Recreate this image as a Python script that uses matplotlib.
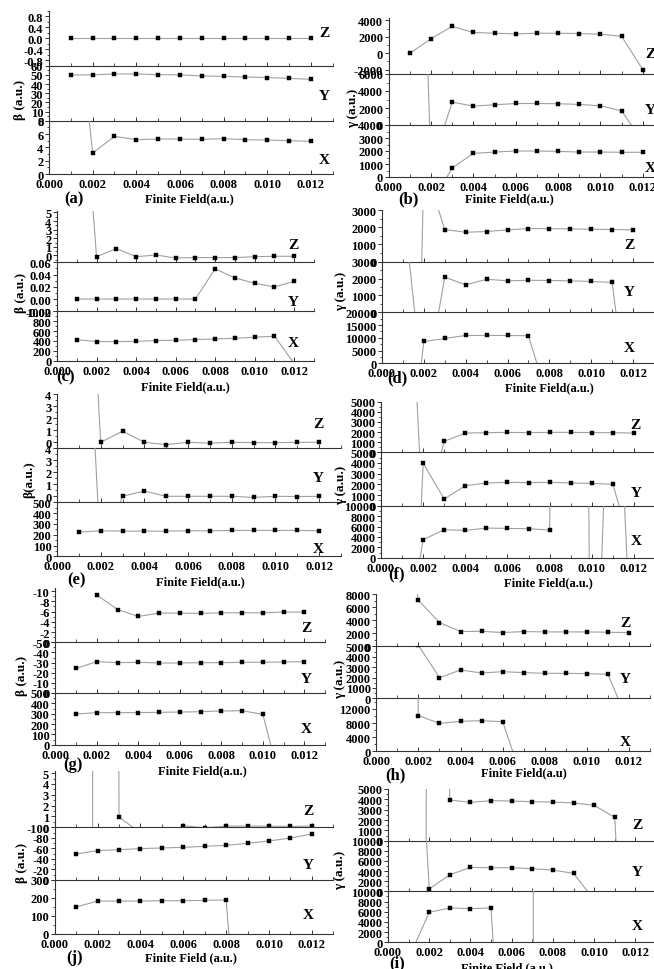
import numpy as np
import matplotlib
matplotlib.use("Agg")
import matplotlib.pyplot as plt
from matplotlib.ticker import MultipleLocator, AutoMinorLocator, FormatStrFormatter

plt.rcParams['font.family'] = ['Liberation Serif', 'DejaVu Serif']
plt.rcParams['font.weight'] = 'bold'
plt.rcParams['axes.unicode_minus'] = False

W, H, DPI = 654, 970, 100
nan = np.nan

field = [0.001, 0.002, 0.003, 0.004, 0.005, 0.006, 0.007, 0.008, 0.009, 0.010, 0.011, 0.012]
components = ['Z', 'Y', 'X']

# ---- panel (a): beta ----
a_Z = [0.0, 0.0, 0.0, 0.0, 0.0, 0.0, 0.0, 0.0, 0.0, 0.0, 0.0, 0.0]
a_Y = [49.9, 50.0, 51.0, 51.0, 50.2, 50.0, 48.8, 48.4, 47.7, 47.0, 46.2, 45.1]
a_X = [34.0, 3.15, 5.65, 5.15, 5.25, 5.25, 5.2, 5.3, 5.15, 5.1, 5.0, 4.9]
# ---- panel (b): gamma ----
b_Z = [0, 1770, 3280, 2530, 2440, 2360, 2440, 2440, 2400, 2320, 2060, -2020]
b_Y = [70000, -5000, 2690, 2220, 2380, 2530, 2530, 2500, 2420, 2260, 1660, -2000]
b_X = [nan, -2100, 700, 1820, 1920, 2000, 2000, 1970, 1920, 1920, 1900, 1900]
# ---- panel (c): beta ----
c_Z = [30, -0.15, 0.8, -0.15, 0.05, -0.3, -0.25, -0.25, -0.25, -0.15, -0.1, -0.1]
c_Y = [0, 0, 0, 0, 0, 0, 0, 0.0493, 0.0345, 0.0258, 0.0197, 0.029]
c_X = [427, 386, 386, 393, 407, 414, 427, 440, 454, 475, 495, -60]
# ---- panel (d): gamma ----
d_Z = [-51000, 5680, 1865, 1710, 1750, 1850, 1920, 1920, 1900, 1885, 1865, 1850]
d_Y = [6500, -5000, 2080, 1630, 1960, 1865, 1900, 1885, 1865, 1830, 1770, -8000]
d_X = [-60000, 8550, 9740, 10920, 10920, 10920, 10790, -16000, nan, nan, nan, nan]
# ---- panel (e): beta ----
e_Z = [33, 0, 0.92, 0, -0.2, 0, -0.08, 0, -0.03, -0.03, 0, 0]
e_Y = [30, -5, 0.0, 0.44, 0.0, 0.0, 0.0, 0.0, -0.09, 0.0, -0.02, 0.0]
e_X = [224, 236, 233, 233, 233, 236, 236, 240, 240, 240, 240, 236]
# ---- panel (f): gamma ----
f_Z = [34600, -7070, 1085, 1900, 1940, 1970, 1940, 1970, 1970, 1940, 1940, 1900]
f_Y = [-40000, 3970, 625, 1875, 2125, 2190, 2160, 2190, 2125, 2090, 2000, -4700]
f_X = [-21000, 3480, 5380, 5250, 5700, 5630, 5570, 5320, 400000, -54000, 60000, -30000]
# ---- panel (g): beta ----
g_Z = [nan, -9.24, -6.4, -5.05, -5.7, -5.7, -5.65, -5.75, -5.75, -5.75, -5.9, -5.9]
g_Y = [-24.3, -30.9, -29.9, -30.3, -29.6, -29.6, -29.9, -29.9, -30.3, -30.3, -30.6, -30.9]
g_X = [297, 310, 310, 310, 313, 316, 319, 326, 329, 294, -470, nan]
# ---- panel (h): gamma ----
h_Z = [26000, 7030, 3640, 2256, 2300, 2100, 2256, 2200, 2200, 2200, 2150, 2100]
h_Y = [nan, 5100, 1990, 2720, 2435, 2560, 2470, 2400, 2400, 2370, 2310, -2500]
h_X = [300000, 10100, 7900, 8480, 8670, 8380, -9080, nan, nan, nan, nan, nan]
# ---- panel (j): beta ----
j_Z = [-3300, 1000, 0.94, -0.5, -5, 0.14, -0.05, 0.11, 0.11, 0.11, 0.08, 0.11]
j_Y = [-49.4, -55.7, -57.6, -59.5, -60.8, -62.0, -63.9, -65.8, -69.6, -74.0, -79.7, -87.3]
j_X = [150, 183, 183, 183, 185, 185, 187, 189, -1300, nan, nan, nan]
# ---- panel (i): gamma ----
i_Z = [-567000, 100000, 3935, 3710, 3870, 3840, 3770, 3740, 3650, 3420, 2260, -35400]
i_Y = [74000, 460, 3280, 4720, 4660, 4660, 4460, 4200, 3540, -1700, nan, nan]
i_X = [-3170, 5880, 6730, 6600, 6730, -60570, -1000000, 20000000, nan, nan, nan, nan]

panels = [
    dict(tag='(a)', ylab='β (a.u.)', xlab='Finite Field(a.u.)', data=(a_Z, a_Y, a_X),
         lims=[(-1, 1), (0, 60), (0, 8)], steps=[0.4, 10, 2], fmts=['%.1f', '%d', '%d'],
         box=(49, 332.7, 12, 66.7, 121.7, 175), ylpos=(20, 100), tagpos=(74, 199), xlpos=(189, 199),
         letx=0.97, lety=(0.6, 0.45, 0.28)),
    dict(tag='(b)', ylab='γ (a.u.)', xlab='Finite Field(a.u.)', data=(b_Z, b_Y, b_X),
         lims=[(-2540, 4300), (0, 6000), (0, 4000)], steps=[2000, 2000, 1000], fmts=['%d', '%d', '%d'],
         box=(388.7, 664, 19, 75, 126, 178), ylpos=(353, 108), tagpos=(408, 199), xlpos=(509, 199),
         letx=0.95, lety=(0.36, 0.31, 0.19)),
    dict(tag='(c)', ylab='β (a.u.)', xlab='Finite Field(a.u.)', data=(c_Z, c_Y, c_X),
         lims=[(-0.8, 5.2), (-0.02, 0.06), (0, 1000)], steps=[1, 0.02, 200], fmts=['%d', '%.2f', '%d'],
         box=(57, 314, 211.7, 263.3, 312.3, 361.7), ylpos=(21, 293), tagpos=(66, 377), xlpos=(185, 387),
         letx=0.92, lety=(0.34, 0.2, 0.37)),
    dict(tag='(d)', ylab='γ (a.u.)', xlab='Finite Field(a.u.)', data=(d_Z, d_Y, d_X),
         lims=[(0, 3000), (0, 3000), (0, 20000)], steps=[1000, 1000, 5000], fmts=['%d', '%d', '%d'],
         box=(382, 654, 211, 262.7, 313.3, 364.3), ylpos=(341, 291), tagpos=(397, 378), xlpos=(549, 388),
         letx=0.91, lety=(0.33, 0.41, 0.3)),
    dict(tag='(e)', ylab='β(a.u.)', xlab='Finite Field(a.u.)', data=(e_Z, e_Y, e_X),
         lims=[(-0.5, 4), (-0.5, 4), (0, 500)], steps=[1, 1, 100], fmts=['%d', '%d', '%d'],
         box=(57, 341, 395, 449.3, 503.3, 557.3), ylpos=(29, 480), tagpos=(77, 580), xlpos=(200, 582),
         letx=0.92, lety=(0.45, 0.46, 0.15)),
    dict(tag='(f)', ylab='γ (a.u.)', xlab='Finite Field(a.u.)', data=(f_Z, f_Y, f_X),
         lims=[(0, 5000), (0, 5000), (0, 10000)], steps=[1000, 1000, 2000], fmts=['%d', '%d', '%d'],
         box=(381, 655, 402.7, 453.3, 506.7, 558.7), ylpos=(341, 485), tagpos=(397, 574), xlpos=(548, 583),
         letx=0.93, lety=(0.54, 0.25, 0.33)),
    dict(tag='(g)', ylab='β (a.u.)', xlab='Finite Field(a.u.)', data=(g_Z, g_Y, g_X),
         lims=[(0, -10.6), (0, -50), (0, 500)], steps=[2, 10, 100], fmts=['%d', '%d', '%d'],
         box=(55.3, 325, 589, 643.3, 694, 745.7), ylpos=(22, 676), tagpos=(73, 765), xlpos=(202, 771),
         letx=0.93, lety=(0.28, 0.28, 0.32)),
    dict(tag='(h)', ylab='γ (a.u.)', xlab='Finite Field(a.u)', data=(h_Z, h_Y, h_X),
         lims=[(0, 8000), (0, 5000), (0, 15000)], steps=[2000, 1000, 4000], fmts=['%d', '%d', '%d'],
         box=(376.3, 650, 595, 647.3, 699.3, 752.3), ylpos=(340, 679), tagpos=(395, 775), xlpos=(524, 773),
         letx=0.91, lety=(0.46, 0.38, 0.19)),
    dict(tag='(j)', ylab='β (a.u.)', xlab='Finite Field (a.u.)', data=(j_Z, j_Y, j_X),
         lims=[(0, 5.2), (0, -100), (0, 300)], steps=[1, 20, 100], fmts=['%d', '%d', '%d'],
         box=(54.7, 333.3, 772, 828.3, 881, 935), ylpos=(22, 863), tagpos=(75, 958), xlpos=(191, 958),
         letx=0.91, lety=(0.29, 0.29, 0.37)),
    dict(tag='(i)', ylab='γ (a.u.)', xlab='Finite Field (a.u.)', data=(i_Z, i_Y, i_X),
         lims=[(0, 5000), (0, 10000), (0, 10000)], steps=[1000, 2000, 2000], fmts=['%d', '%d', '%d'],
         box=(388, 656, 790, 841.7, 892.3, 943.3), ylpos=(340, 870), tagpos=(397, 963), xlpos=(507, 968),
         letx=0.93, lety=(0.31, 0.39, 0.32)),
]

fig = plt.figure(figsize=(W / DPI, H / DPI), dpi=DPI)
fig.patch.set_facecolor('white')

TICKFS = 9
for p in panels:
    l, r, t, s1, s2, b = p['box']
    edges = [t, s1, s2, b]
    for k in range(3):
        top, bot = edges[k], edges[k + 1]
        ax = fig.add_axes([l / W, 1 - bot / H, (r - l) / W, (bot - top) / H])
        ax.patch.set_alpha(0)
        ax.plot(field, p['data'][k], color='#a0a0a0', lw=0.8, marker='s', ms=3,
                mfc='black', mec='black', mew=0.3)
        ax.set_xlim(0, 0.013)
        ax.set_ylim(*p['lims'][k])
        ax.xaxis.set_major_locator(MultipleLocator(0.002))
        ax.xaxis.set_minor_locator(MultipleLocator(0.001))
        ax.xaxis.set_major_formatter(FormatStrFormatter('%.3f'))
        ax.yaxis.set_major_locator(MultipleLocator(p['steps'][k]))
        ax.yaxis.set_minor_locator(AutoMinorLocator(2))
        ax.yaxis.set_major_formatter(FormatStrFormatter(p['fmts'][k]))
        for side in ('top', 'right'):
            ax.spines[side].set_visible(False)
        for side in ('left', 'bottom'):
            ax.spines[side].set_linewidth(0.8)
            ax.spines[side].set_color('#333333')
        ax.tick_params(axis='x', which='major', direction='in', length=3, width=0.7,
                       labelsize=TICKFS, pad=3, labelbottom=(k == 2), color='#333333')
        ax.tick_params(axis='x', which='minor', direction='in', length=2, width=0.6, color='#333333')
        ax.tick_params(axis='y', which='major', direction='out', length=3, width=0.7,
                       labelsize=TICKFS, pad=1, color='#333333')
        ax.tick_params(axis='y', which='minor', direction='out', length=1.5, width=0.6, color='#333333')
        for lab in ax.get_xticklabels() + ax.get_yticklabels():
            lab.set_fontweight('bold')
        ax.text(p['letx'], p['lety'][k], components[k], transform=ax.transAxes, fontsize=11,
                fontweight='bold', ha='center', va='center')
    fig.text(p['ylpos'][0] / W, 1 - p['ylpos'][1] / H, p['ylab'], rotation=90,
             fontsize=9.5, fontweight='bold', ha='center', va='center')
    fig.text(p['tagpos'][0] / W, 1 - p['tagpos'][1] / H, p['tag'],
             fontsize=12, fontweight='bold', ha='center', va='center')
    fig.text(p['xlpos'][0] / W, 1 - p['xlpos'][1] / H, p['xlab'],
             fontsize=9, fontweight='bold', ha='center', va='center')

fig.savefig('out.png', dpi=DPI, facecolor='white')
